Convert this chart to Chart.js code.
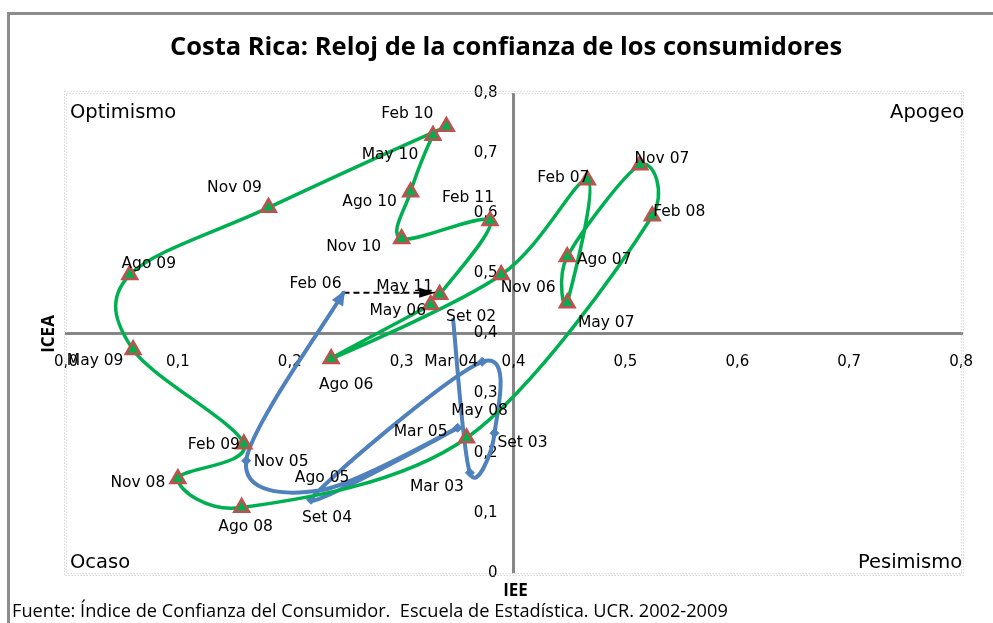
<!DOCTYPE html>
<html>
<head>
<meta charset="utf-8">
<script src="https://cdn.jsdelivr.net/npm/chart.js@4.4.1/dist/chart.umd.min.js"></script>
<style>
html,body{margin:0;padding:0;background:#fff;overflow:hidden;width:993px;height:623px;}
#frame{position:absolute;left:7px;top:12px;width:1100px;height:800px;border-left:3px solid #8c8c8c;border-top:3px solid #8c8c8c;}
#c{position:absolute;left:0;top:0;}
</style>
</head>
<body>
<div id="frame"></div>
<canvas id="c" width="993" height="623"></canvas>
<script>
// ---- texts ----
const titleText = 'Costa Rica: Reloj de la confianza de los consumidores';
const sourceText = 'Fuente: Índice de Confianza del Consumidor.  Escuela de Estadística. UCR. 2002-2009';
const xAxisTitle = 'IEE';
const yAxisTitle = 'ICEA';
const quadrantNames = ['Optimismo', 'Apogeo', 'Ocaso', 'Pesimismo'];
const xTickLabels = ['0,0', '0,1', '0,2', '0,3', '0,4', '0,5', '0,6', '0,7', '0,8'];
const yTickLabels = ['0', '0,1', '0,2', '0,3', '0,4', '0,5', '0,6', '0,7', '0,8'];

// ---- series 2006-2011 (green, triangles) ----
const greenPeriods = ['May 06','Ago 06','Nov 06','Feb 07','May 07','Ago 07','Nov 07','Feb 08','May 08','Ago 08','Nov 08','Feb 09','May 09','Ago 09','Nov 09','Feb 10','May 10','Ago 10','Nov 10','Feb 11','May 11'];
const greenIEE  = [0.326,0.237,0.389,0.466,0.448,0.448,0.513,0.524,0.358,0.157,0.100,0.159,0.060,0.057,0.181,0.340,0.328,0.308,0.300,0.379,0.334];
const greenICEA = [0.447,0.357,0.497,0.655,0.450,0.527,0.680,0.595,0.225,0.109,0.157,0.215,0.372,0.497,0.609,0.744,0.729,0.635,0.557,0.587,0.464];

// ---- series 2002-2006 (blue) ----
const bluePeriods = ['Set 02','Mar 03','Set 03','Mar 04','Set 04','Mar 05','Ago 05','Nov 05','Feb 06'];
const blueIEE  = [0.346,0.361,0.383,0.372,0.219,0.350,0.228,0.161,0.248];
const blueICEA = [0.422,0.167,0.233,0.352,0.122,0.242,0.138,0.187,0.467];

// ---- transition arrow Feb 06 -> May 06 ----
const transitionIEE  = [0.248, 0.330];
const transitionICEA = [0.467, 0.467];

// ---- label placement (pixel offsets of label centre from its point) ----
const greenLabelOffsets = [[-33,6],[15,26],[27,13],[-24,-2],[39,20],[37,3],[22,-6],[27,-4],[13,-27],[4,19],[-40,4],[-30,1],[-38,11],[19,-11],[-34,-20],[-39,-13],[-43,19],[-41,10],[-48,8],[-22,-23],[-35,-8]];
const blueLabelOffsets  = [[18,-3],[-33,14],[28,10],[-31,0],[16,18],[-37,4],[1,-12],[35,1],[-28,-9]];

function pts(xs, ys) { return xs.map((x, i) => ({x: x, y: ys[i]})); }

function arrowHead(ctx, x, y, ang, len, half, color) {
  ctx.save();
  ctx.translate(x, y);
  ctx.rotate(ang);
  ctx.beginPath();
  ctx.moveTo(0, 0);
  ctx.lineTo(-len, -half);
  ctx.lineTo(-len, half);
  ctx.closePath();
  ctx.fillStyle = color;
  ctx.fill();
  ctx.restore();
}

// Excel-like smoothing: control points at 1/6 of the neighbour chord
const smoothPlugin = {
  id: 'excelSmooth',
  beforeDatasetDraw(chart, args) {
    const ds = chart.data.datasets[args.index];
    const meta = args.meta;
    if (!ds.excelSmooth || !meta.dataset) return;
    meta.dataset.updateControlPoints(chart.chartArea, 'x');
    const P = meta.data;
    for (let i = 0; i < P.length; i++) {
      const p1 = P[i], p0 = P[i - 1] || p1, p2 = P[i + 1] || p1;
      const tx = (p2.x - p0.x) / 6, ty = (p2.y - p0.y) / 6;
      const tl = Math.hypot(tx, ty) || 1;
      const dPrev = Math.hypot(p1.x - p0.x, p1.y - p0.y);
      const dNext = Math.hypot(p2.x - p1.x, p2.y - p1.y);
      const sp = Math.min(1, 0.5 * dPrev / tl), sn = Math.min(1, 0.5 * dNext / tl);
      p1.cp1x = p1.x - tx * sp; p1.cp1y = p1.y - ty * sp;
      p1.cp2x = p1.x + tx * sn; p1.cp2y = p1.y + ty * sn;
    }
  }
};

const decorPlugin = {
  id: 'decor',
  afterLayout(chart) {
    if (chart.titleBlock) { chart.titleBlock.left = 19; chart.titleBlock.right = 993; }
    chart.boxes.forEach(b => {
      if (b.options && b.options.text === sourceText) { b.left = 12; b.right = 993; }
    });
  },
  beforeDatasetsDraw(chart) {
    const {ctx, chartArea: a} = chart;
    ctx.save();
    ctx.strokeStyle = '#c4c4c4';
    ctx.lineWidth = 1;
    ctx.setLineDash([1, 2]);
    ctx.strokeRect(a.left + 0.5, a.top + 0.5, a.right - a.left, a.bottom - a.top);
    ctx.strokeRect(a.left - 1.5, a.top - 1.5, a.right - a.left + 4, a.bottom - a.top + 4);
    ctx.setLineDash([]);
    // quadrant names
    ctx.fillStyle = '#000';
    ctx.font = '19.5px "DejaVu Sans"';
    ctx.textBaseline = 'middle';
    ctx.textAlign = 'left';
    ctx.fillText(quadrantNames[0], a.left + 4, a.top + 20);
    ctx.fillText(quadrantNames[2], a.left + 4, a.bottom - 10);
    ctx.textAlign = 'right';
    ctx.fillText(quadrantNames[1], a.right + 3, a.top + 20);
    ctx.fillText(quadrantNames[3], a.right + 1, a.bottom - 10);
    // axis titles
    const xs = chart.scales.x, ys = chart.scales.y;
    ctx.font = 'bold 17px "Open Sans"';
    ctx.textAlign = 'center';
    ctx.fillText(xAxisTitle, xs.getPixelForValue(0.4) + 2, a.bottom + 18);
    ctx.save();
    ctx.translate(a.left - 17, ys.getPixelForValue(0.4) + 1);
    ctx.rotate(-Math.PI / 2);
    ctx.fillText(yAxisTitle, 0, 0);
    ctx.restore();
    ctx.restore();
  },
  afterDatasetsDraw(chart) {
    const ctx = chart.ctx;
    ctx.save();
    // arrow head at end of blue series
    const bm = chart.getDatasetMeta(1).data;
    const last = bm[bm.length - 1];
    const angB = Math.atan2(last.y - last.cp1y, last.x - last.cp1x);
    arrowHead(ctx, last.x + 3 * Math.cos(angB), last.y + 3 * Math.sin(angB), angB, 15, 6.5, '#4f81bd');
    // arrow head of transition line
    const tm = chart.getDatasetMeta(2).data;
    const angT = Math.atan2(tm[1].y - tm[0].y, tm[1].x - tm[0].x);
    arrowHead(ctx, tm[1].x, tm[1].y, angT, 16, 5, '#000');
    // point labels
    ctx.font = '15.5px "DejaVu Sans"';
    ctx.fillStyle = '#000';
    ctx.textAlign = 'center';
    ctx.textBaseline = 'middle';
    chart.data.datasets.forEach((ds, di) => {
      if (!ds.pointLabels) return;
      chart.getDatasetMeta(di).data.forEach((p, i) => {
        const o = ds.labelOffsets[i];
        ctx.fillText(ds.pointLabels[i], p.x + o[0], p.y + o[1]);
      });
    });
    ctx.restore();
  }
};

const isCross = v => Math.abs(v - 0.4) < 1e-6;

new Chart(document.getElementById('c'), {
  type: 'scatter',
  data: {
    datasets: [
      {
        label: '2006-2011',
        data: pts(greenIEE, greenICEA),
        pointLabels: greenPeriods,
        labelOffsets: greenLabelOffsets,
        excelSmooth: true,
        showLine: true,
        tension: 0.5,
        borderColor: '#00b050',
        borderWidth: 3.5,
        pointStyle: 'triangle',
        pointRadius: 8.5,
        pointBackgroundColor: '#00b050',
        pointBorderColor: '#c0504d',
        pointBorderWidth: 2.5
      },
      {
        label: '2002-2006',
        data: pts(blueIEE, blueICEA),
        pointLabels: bluePeriods,
        labelOffsets: blueLabelOffsets,
        excelSmooth: true,
        showLine: true,
        tension: 0.5,
        borderColor: '#4f81bd',
        borderWidth: 4,
        borderCapStyle: 'round',
        borderJoinStyle: 'round',
        pointStyle: 'rectRot',
        pointRadius: [0,4.5,4.5,4.5,4.5,4.5,0,4.5,0],
        pointBackgroundColor: '#4f81bd',
        pointBorderColor: '#4f81bd',
        pointBorderWidth: 1
      },
      {
        label: 'transición',
        data: pts(transitionIEE, transitionICEA),
        showLine: true,
        tension: 0,
        borderColor: '#000',
        borderWidth: 2,
        borderDash: [6, 4],
        pointRadius: 0
      }
    ]
  },
  options: {
    responsive: false,
    animation: false,
    devicePixelRatio: 1,
    layout: {padding: {left: 66, right: 27, top: 0, bottom: 0}},
    plugins: {
      legend: {display: false},
      tooltip: {enabled: false},
      title: {
        display: true,
        text: titleText,
        color: '#000',
        font: {family: 'Open Sans', size: 25.5, weight: 'bold', lineHeight: 1.2},
        padding: {top: 32.7, bottom: 29.7}
      },
      subtitle: {
        display: true,
        text: sourceText,
        position: 'bottom',
        align: 'start',
        color: '#000',
        font: {family: 'Open Sans', size: 18.2, weight: 'normal', lineHeight: 1.2},
        padding: {top: 28, bottom: 0.16}
      }
    },
    scales: {
      x: {
        type: 'linear',
        min: 0, max: 0.8,
        position: {y: 0.4},
        ticks: {
          stepSize: 0.1, autoSkip: false, maxRotation: 0, padding: 20,
          color: '#000', font: {family: 'DejaVu Sans', size: 15},
          callback: (v, i) => xTickLabels[i]
        },
        grid: {
          drawTicks: false,
          lineWidth: 3,
          color: c => (c.tick && isCross(c.tick.value)) ? '#868686' : 'rgba(0,0,0,0)'
        },
        border: {display: true, color: '#868686', width: 3}
      },
      y: {
        type: 'linear',
        min: 0, max: 0.8,
        position: {x: 0.3858},
        ticks: {
          stepSize: 0.1, autoSkip: false, padding: 0,
          color: '#000', font: {family: 'DejaVu Sans', size: 15},
          callback: (v, i) => yTickLabels[i]
        },
        grid: {display: false, drawTicks: false},
        border: {display: false}
      }
    }
  },
  plugins: [smoothPlugin, decorPlugin]
});
</script>
</body>
</html>
